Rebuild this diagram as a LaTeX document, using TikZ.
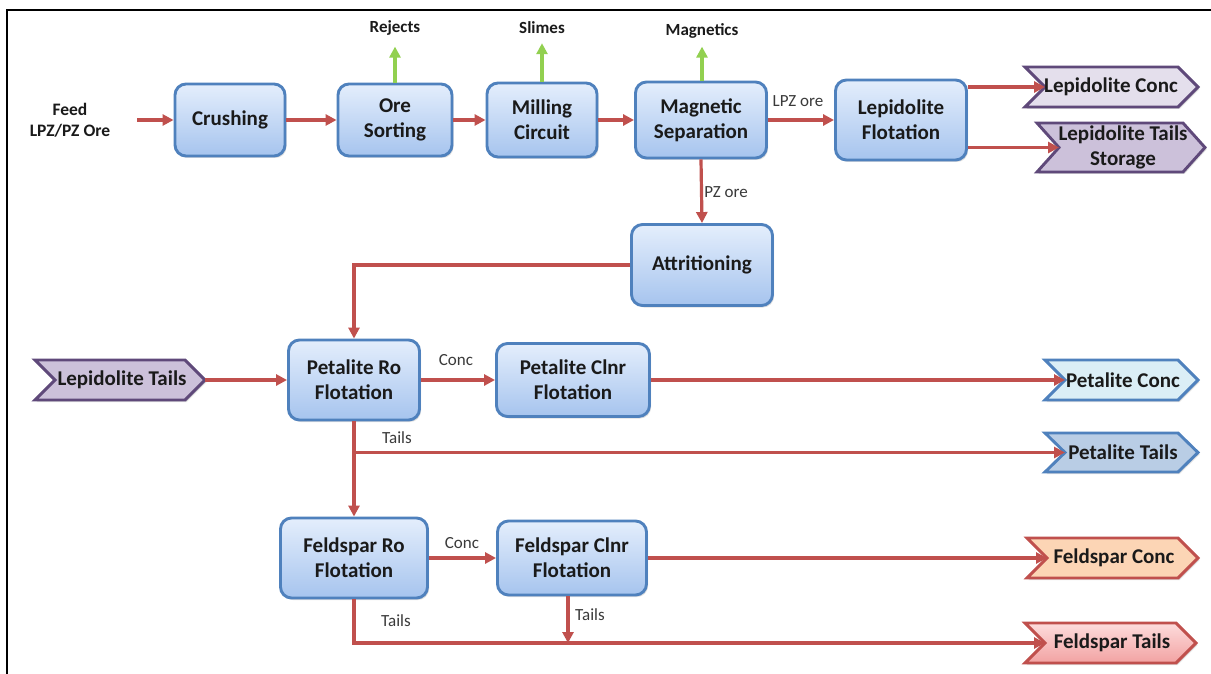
\documentclass[tikz,border=0pt]{standalone}
\usepackage{fontspec}
\setmainfont{Carlito}
\usetikzlibrary{arrows.meta,shadows}

\definecolor{boxblue}{HTML}{4F81BD}
\definecolor{boxtop}{HTML}{E4EEFC}
\definecolor{boxbot}{HTML}{A6C4EE}
\definecolor{flow}{HTML}{C0504D}
\definecolor{grn}{HTML}{92D050}
\definecolor{purp}{HTML}{5F497A}
\definecolor{lilac}{HTML}{E4DFEC}
\definecolor{lilacd}{HTML}{CCC1DA}
\definecolor{cyanl}{HTML}{DBEEF6}
\definecolor{bluel}{HTML}{B9CDE5}
\definecolor{peach}{HTML}{FCD5B5}
\definecolor{pinkt}{HTML}{FDDCDC}
\definecolor{pinkb}{HTML}{F2A2A2}
\definecolor{txt}{HTML}{1A1A1A}
\definecolor{lbl}{HTML}{3A3A3A}

\tikzset{
  proc/.style={draw=boxblue, line width=2.9pt, rounded corners=11pt,
    top color=boxtop, bottom color=boxbot, align=center, inner sep=0pt,
    text=txt, font=\fontsize{21}{25}\selectfont\bfseries,
    drop shadow={opacity=0.25, shadow xshift=1.5pt, shadow yshift=-2pt}},
  flowline/.style={draw=flow, line width=3.2pt, -{Triangle[length=11pt,width=11pt]}},
  gline/.style={draw=grn, line width=3.2pt, -{Triangle[length=11pt,width=11pt]}},
  chevbox/.style={line width=2.9pt, line join=miter,
    drop shadow={opacity=0.25, shadow xshift=1.5pt, shadow yshift=-2pt}},
  chevtext/.style={align=center, inner sep=0pt, text=txt,
    font=\fontsize{21}{25}\selectfont\bfseries},
  smalllbl/.style={inner sep=0pt, text=lbl, font=\fontsize{17}{19}\selectfont},
  toplbl/.style={inner sep=0pt, text=txt, font=\fontsize{17}{19}\selectfont\bfseries},
}

% \chev{name}{x1}{y1}{x2}{y2}{depth}{style}{text}{textx}
\newcommand{\chev}[9]{%
  \path[chevbox,#7] (#2,#3) -- ({#4-#6},#3) -- (#4,{(#3+#5)/2}) -- ({#4-#6},#5)
     -- (#2,#5) -- ({#2+#6},{(#3+#5)/2}) -- cycle;
  \node[chevtext] (#1) at (#9,{(#3+#5)/2}) {#8};
  \coordinate (#1-in) at ({#2+#6},{(#3+#5)/2});
  \coordinate (#1-out) at (#4,{(#3+#5)/2});
}

\begin{document}
\begin{tikzpicture}[x=1pt,y=-1pt]
\useasboundingbox[fill=white] (0,0) rectangle (1211,674);

% frame
\draw[line width=2.4pt,black] (7,674) -- (7,10) -- (1211,10);

% row 1
\node[align=center, inner sep=0pt, text=txt, font=\fontsize{17.5}{21}\selectfont\bfseries] (feed) at (70,120) {Feed\\LPZ/PZ Ore};
\node[proc, minimum width=110pt, minimum height=72pt] (crush) at (230,120) {Crushing};
\node[proc, minimum width=114pt, minimum height=72pt] (sort) at (395,120) {Ore\\Sorting};
\node[proc, minimum width=110pt, minimum height=74pt] (mill) at (542,120) {Milling\\Circuit};
\node[proc, minimum width=131pt, minimum height=76pt] (mag) at (701,120) {Magnetic\\Separation};
\node[proc, minimum width=131pt, minimum height=80pt] (lepf) at (901,120) {Lepidolite\\Flotation};

\node[toplbl] (rej) at (395,28) {Rejects};
\node[toplbl] (slm) at (542,28) {Slimes};
\node[toplbl] (mgn) at (702,31) {Magnetics};

\chev{lc}{1025}{67}{1198}{107}{20}{fill=lilac,draw=purp}{Lepidolite Conc}{1111}
\chev{lts}{1037}{123}{1205}{172}{22}{fill=lilacd,draw=purp}{Lepidolite Tails\\Storage}{1123}

% attritioning
\node[proc, minimum width=141pt, minimum height=81pt] (attr) at (702,265) {Attritioning};

% row petalite
\chev{lt}{35}{360}{205}{400}{20}{fill=lilacd,draw=purp}{Lepidolite Tails}{122}
\node[proc, minimum width=131pt, minimum height=80pt] (petro) at (354,380) {Petalite Ro\\Flotation};
\node[proc, minimum width=153pt, minimum height=73pt] (petcl) at (573,380) {Petalite Clnr\\Flotation};
\chev{pc}{1045}{360}{1198}{400}{20}{fill=cyanl,draw=boxblue}{Petalite Conc}{1123}
\chev{pt}{1045}{433}{1198}{472}{20}{fill=bluel,draw=boxblue}{Petalite Tails}{1123}

% row feldspar
\node[proc, minimum width=147pt, minimum height=80pt] (felro) at (354,558) {Feldspar Ro\\Flotation};
\node[proc, minimum width=149pt, minimum height=74pt] (felcl) at (572,558) {Feldspar Clnr\\Flotation};
\chev{fc}{1027}{538}{1198}{578}{20}{fill=peach,draw=flow}{Feldspar Conc}{1114}
\chev{ft}{1025}{623}{1196}{663}{20}{top color=pinkt,bottom color=pinkb,draw=flow}{Feldspar Tails}{1112}

% connectors row 1
\draw[flowline] ([xshift=27pt]feed.east) -- (crush.west);
\draw[flowline] (crush.east) -- (sort.west);
\draw[flowline] (sort.east) -- (mill.west);
\draw[flowline] (mill.east) -- (mag.west);
\draw[flowline] (mag.east) -- (lepf.west);
\node[smalllbl] (lpzl) at (798,101) {LPZ ore};
\draw[gline] (sort.north) -- ([yshift=-11pt]rej.south);
\draw[gline] (mill.north) -- ([yshift=-9pt]slm.south);
\draw[gline] ([xshift=1pt]mag.north) -- ([yshift=-8pt]mgn.south);
\draw[flowline] (lepf.east |- lc-in) -- (lc-in);
\draw[flowline] (lepf.east |- lts-in) -- (lts-in);

% PZ ore
\draw[flowline] (mag.south) -- (attr.north);
\node[smalllbl] (pzl) at (726,192) {PZ ore};
\draw[flowline] (attr.west) -| (petro.north);

% petalite
\draw[flowline] (lt-out) -- (petro.west);
\draw[flowline] (petro.east) -- (petcl.west);
\node[smalllbl] (c1) at (456,360) {Conc};
\draw[flowline] (petcl.east) -- (pc-in);
\draw[flowline] (petro.south) -- (felro.north);
\draw[flowline] (petro.south |- pt-in) -- (pt-in);
\node[smalllbl] (t1) at (397,438) {Tails};

% feldspar
\draw[flowline] (felro.east) -- (felcl.west);
\node[smalllbl] (c2) at (462,543) {Conc};
\draw[flowline] (felcl.east) -- (fc-in);
\draw[flowline] (felro.south) |- (ft-in);
\node[smalllbl] (t2) at (396,621) {Tails};
\draw[flowline] ([xshift=-4pt]felcl.south) -- ([xshift=-4pt]felcl.south |- ft-in);
\node[smalllbl] (t3) at (590,615) {Tails};
\end{tikzpicture}
\end{document}
